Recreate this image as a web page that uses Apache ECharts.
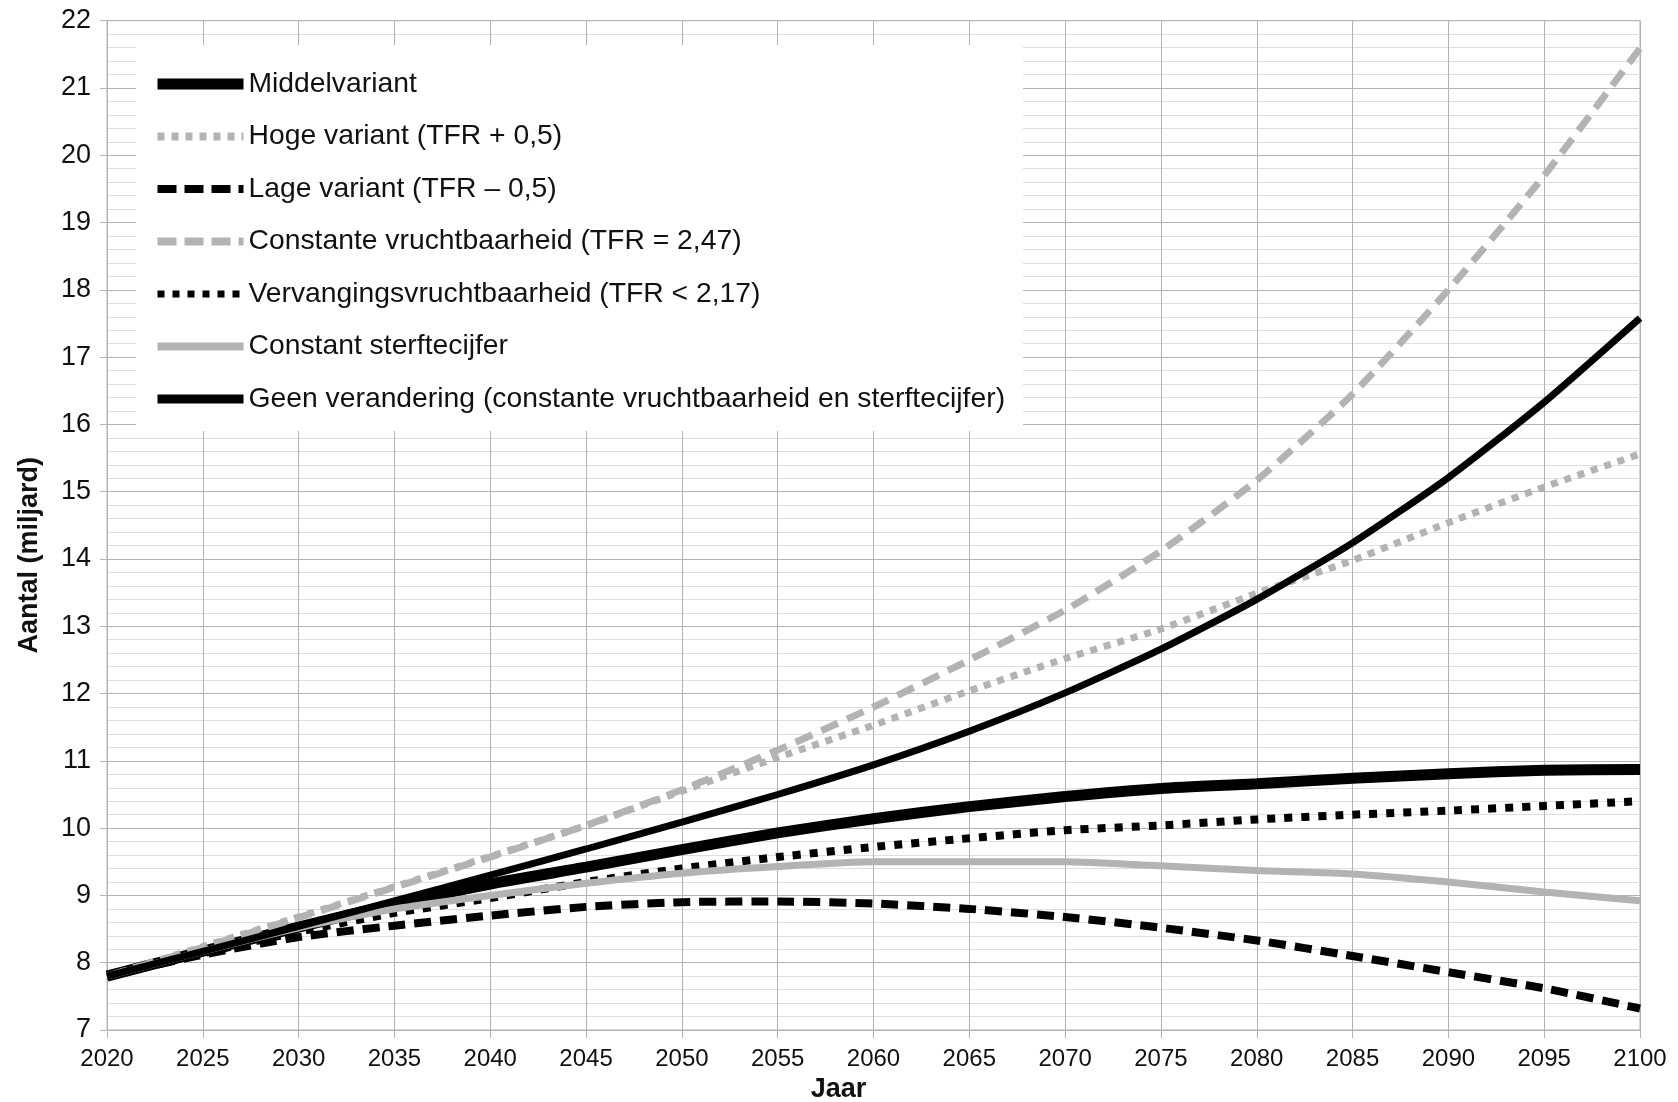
<!DOCTYPE html>
<html><head><meta charset="utf-8">
<script src="https://cdn.jsdelivr.net/npm/echarts@6/dist/echarts.min.js"></script>
<style>html,body{margin:0;padding:0;background:#fff}#c{width:1678px;height:1102px}</style>
</head><body><div id="c"></div>
<script>
const years = [2020, 2025, 2030, 2035, 2040, 2045, 2050, 2055, 2060, 2065, 2070, 2075, 2080, 2085, 2090, 2095, 2100];
const middelvariant   = [7.8, 8.17, 8.53, 8.87, 9.17, 9.42, 9.68, 9.93, 10.14, 10.32, 10.47, 10.59, 10.66, 10.74, 10.81, 10.86, 10.87];
const hogeVariant     = [7.8, 8.24, 8.68, 9.13, 9.58, 10.04, 10.55, 11.05, 11.53, 12.04, 12.52, 12.96, 13.49, 13.98, 14.54, 15.07, 15.56];
const lageVariant     = [7.8, 8.12, 8.38, 8.55, 8.70, 8.83, 8.90, 8.91, 8.88, 8.80, 8.68, 8.52, 8.33, 8.10, 7.86, 7.62, 7.32];
const constanteVrucht = [7.8, 8.23, 8.67, 9.12, 9.57, 10.04, 10.57, 11.16, 11.80, 12.50, 13.24, 14.12, 15.17, 16.45, 18.0, 19.7, 21.59];
const vervanging      = [7.8, 8.14, 8.46, 8.74, 8.96, 9.20, 9.40, 9.57, 9.72, 9.85, 9.97, 10.04, 10.13, 10.20, 10.26, 10.33, 10.40];
const constantSterfte = [7.8, 8.17, 8.52, 8.80, 9.0, 9.18, 9.33, 9.43, 9.50, 9.50, 9.50, 9.44, 9.37, 9.32, 9.20, 9.05, 8.92];
const geenVerandering = [7.8, 8.17, 8.54, 8.92, 9.30, 9.69, 10.09, 10.50, 10.94, 11.44, 12.01, 12.66, 13.40, 14.24, 15.21, 16.33, 17.58];

const seriesNames = [
  'Middelvariant',
  'Hoge variant (TFR + 0,5)',
  'Lage variant (TFR – 0,5)',
  'Constante vruchtbaarheid (TFR = 2,47)',
  'Vervangingsvruchtbaarheid (TFR < 2,17)',
  'Constant sterftecijfer',
  'Geen verandering (constante vruchtbaarheid en sterftecijfer)'
];
const seriesValues = [middelvariant, hogeVariant, lageVariant, constanteVrucht, vervanging, constantSterfte, geenVerandering];

const BLACK = '#000000', GREY = '#b3b3b3';
const styles = [
  {color: BLACK, width: 11, type: 'solid'},
  {color: GREY, width: 7, type: [7, 7]},
  {color: BLACK, width: 8, type: [17, 9]},
  {color: GREY, width: 7, type: [18, 10]},
  {color: BLACK, width: 8, type: [8, 9]},
  {color: GREY, width: 7, type: 'solid'},
  {color: BLACK, width: 7, type: 'solid'}
];
const legendStyles = [
  {color: BLACK, width: 11, type: 'solid'},
  {color: GREY, width: 8, type: [7, 7]},
  {color: BLACK, width: 8, type: [19, 8]},
  {color: GREY, width: 8, type: [19, 8]},
  {color: BLACK, width: 7, type: [7, 8]},
  {color: GREY, width: 8, type: 'solid'},
  {color: BLACK, width: 9, type: 'solid'}
];

const FONT = 'Liberation Sans';
const chart = echarts.init(document.getElementById('c'), null, {renderer: 'canvas'});
chart.setOption({
  animation: false,
  backgroundColor: '#ffffff',
  textStyle: {fontFamily: FONT},
  grid: {left: 107, right: 38, top: 20.7, bottom: 72, containLabel: false, outerBoundsMode: 'none',
         show: true, borderColor: GREY, borderWidth: 1, backgroundColor: 'transparent'},
  legend: {
    orient: 'vertical', left: 136, top: 45,
    backgroundColor: '#ffffff', padding: [25, 18, 18, 16],
    itemWidth: 86, itemHeight: 30, itemGap: 24.5, itemTextGap: 13,
    textStyle: {fontFamily: FONT, fontSize: 28.3, color: '#111'},
    data: seriesNames.map((n, i) => ({name: n, lineStyle: legendStyles[i], itemStyle: {opacity: 0}})),
    z: 10
  },
  xAxis: {
    type: 'value', min: 2020, max: 2100, interval: 5,
    name: 'Jaar', nameLocation: 'middle', nameGap: 46,
    nameTextStyle: {fontFamily: FONT, fontSize: 27, fontWeight: 'bold', color: '#111', padding: [0, 70, 0, 0]},
    axisLine: {show: true, lineStyle: {color: GREY, width: 1}},
    axisTick: {show: true, inside: false, length: 8, lineStyle: {color: GREY}},
    axisLabel: {fontFamily: FONT, fontSize: 24, color: '#111', margin: 17, formatter: v => String(v)},
    splitLine: {show: true, lineStyle: {color: GREY, width: 1}}
  },
  yAxis: {
    type: 'value', min: 7, max: 22, interval: 1,
    name: 'Aantal (miljard)', nameLocation: 'middle', nameGap: 64, nameRotate: 90,
    nameTextStyle: {fontFamily: FONT, fontSize: 27, fontWeight: 'bold', color: '#111', padding: [0, 60, 0, 0]},
    axisLine: {show: true, lineStyle: {color: GREY, width: 1}},
    axisTick: {show: true, inside: false, length: 7, lineStyle: {color: GREY}},
    axisLabel: {fontFamily: FONT, fontSize: 27, color: '#111', margin: 16},
    splitLine: {show: true, lineStyle: {color: GREY, width: 1}},
    minorTick: {show: false, splitNumber: 5},
    minorSplitLine: {show: true, lineStyle: {color: '#dedede', width: 1}}
  },
  series: seriesNames.map((n, i) => ({
    name: n, type: 'line', symbol: 'none', smooth: 0.2,
    data: years.map((y, k) => [y, seriesValues[i][k]]),
    lineStyle: styles[i], itemStyle: {color: styles[i].color},
    z: 2
  }))
});
</script></body></html>
